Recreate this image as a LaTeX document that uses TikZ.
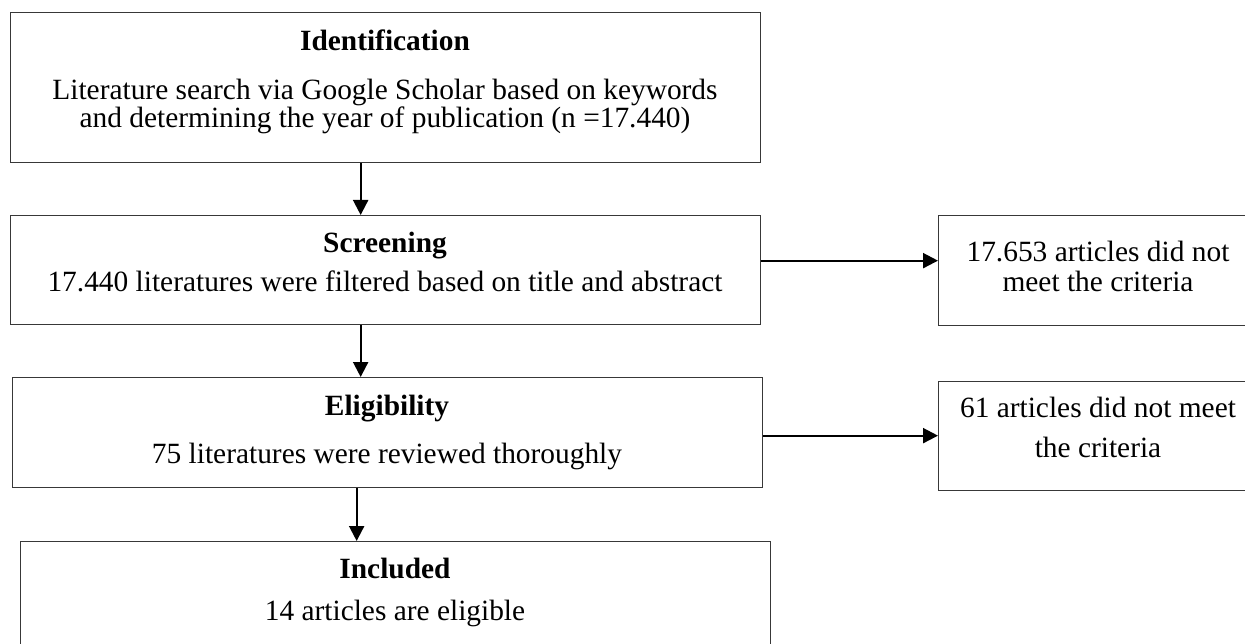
\documentclass[tikz,border=0pt]{standalone}
\usepackage{fontspec}
\setmainfont{Liberation Serif}
\usetikzlibrary{arrows.meta}
\begin{document}
\begin{tikzpicture}[x=1bp,y=-1bp,
  box/.style={draw=black!78, line width=1.3bp, rectangle, anchor=north west, inner sep=0pt},
  txt/.style={anchor=base, inner sep=0pt, font=\fontsize{29.5}{30}\selectfont},
  head/.style={anchor=base, inner sep=0pt, font=\fontsize{29.5}{30}\selectfont\bfseries},
  arr/.style={line width=2.2bp, draw=black, -{Triangle[length=15bp,width=15bp]}}]
\useasboundingbox (0,0) rectangle (1245,644);
\clip (0,0) rectangle (1245,644);
\fill[white] (0,0) rectangle (1245,644);
% boxes
\node[box, minimum width=750bp, minimum height=150bp] (b1) at (10,12) {};
\node[box, minimum width=750bp, minimum height=109bp] (b2) at (10,215) {};
\node[box, minimum width=750bp, minimum height=110bp] (b3) at (12,377) {};
\node[box, minimum width=750bp, minimum height=140bp] (b4) at (20,541) {};
\node[box, minimum width=320bp, minimum height=110bp] (r1) at (938,215) {};
\node[box, minimum width=320bp, minimum height=109bp] (r2) at (938,381) {};
% texts
\node[head] (t1a) at (385,51) {Identification};
\node[txt] (t1b) at (385,100) {Literature search via Google Scholar based on keywords};
\node[txt] (t1c) at (385,128) {and determining the year of publication (n =17.440)};
\node[head] (t2a) at (385,253) {Screening};
\node[txt] (t2b) at (385,292) {17.440 literatures were filtered based on title and abstract};
\node[head] (t3a) at (387,415) {Eligibility};
\node[txt] (t3b) at (387,463) {75 literatures were reviewed thoroughly};
\node[head] (t4a) at (395,578) {Included};
\node[txt] (t4b) at (395,620) {14 articles are eligible};
\node[txt] (r1a) at (1098,262) {17.653 articles did not};
\node[txt] (r1b) at (1098,292) {meet the criteria};
\node[txt] (r2a) at (1098,417) {61 articles did not meet};
\node[txt] (r2b) at (1098,457) {the criteria};
% arrows
\draw[arr] ([xshift=-25bp]b1.south) -- ([xshift=-25bp]b1.south |- b2.north);
\draw[arr] ([xshift=-25bp]b2.south) -- ([xshift=-25bp]b2.south |- b3.north);
\draw[arr] ([xshift=-31bp]b3.south) -- ([xshift=-31bp]b3.south |- b4.north);
\draw[arr] ([yshift=9.5bp]b2.east) -- ([yshift=9.5bp]b2.east -| r1.west);
\draw[arr] ([yshift=-3bp]b3.east) -- ([yshift=-3bp]b3.east -| r2.west);
\end{tikzpicture}
\end{document}
